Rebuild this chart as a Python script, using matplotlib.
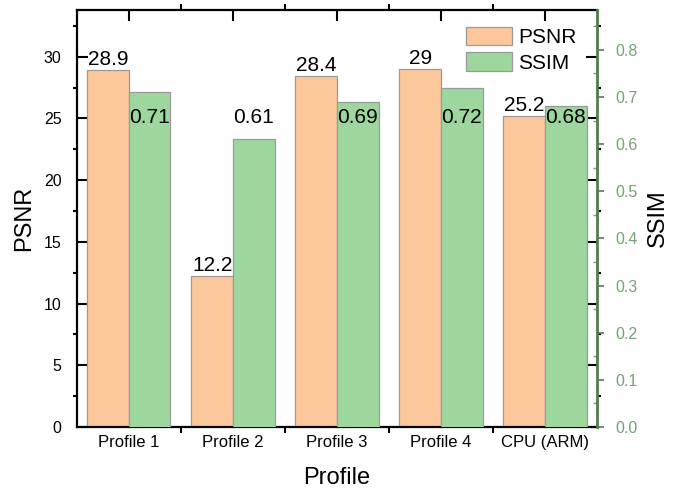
import matplotlib
matplotlib.use("Agg")
import matplotlib.pyplot as plt
from matplotlib.ticker import MultipleLocator, FixedLocator
from matplotlib.transforms import blended_transform_factory
import numpy as np

plt.rcParams['font.family'] = ['Liberation Sans', 'DejaVu Sans']

## Data
profiles = ["Profile 1", "Profile 2", "Profile 3", "Profile 4", "CPU (ARM)"]
psnr = [28.9, 12.2, 28.4, 29, 25.2]
ssim = [0.71, 0.61, 0.69, 0.72, 0.68]
psnr_labels = ["28.9", "12.2", "28.4", "29", "25.2"]
ssim_labels = ["0.71", "0.61", "0.69", "0.72", "0.68"]

orange = "#fcc89b"
green = "#9dd79d"
edge = "#9a9a9a"
dark_green = "#4f7d4f"
label_green = "#74a374"

x = np.arange(len(profiles))
w = 0.4

fig = plt.figure(figsize=(6.8, 4.93), dpi=100)
ax = fig.add_axes([0.113, 0.134, 0.765, 0.846])
ax2 = ax.twinx()

b1 = ax.bar(x - w / 2, psnr, w, color=orange, edgecolor=edge, linewidth=0.9, label="PSNR", zorder=2)
b2 = ax2.bar(x + w / 2, ssim, w, color=green, edgecolor=edge, linewidth=0.9, label="SSIM", zorder=2)

ax.set_xlim(-0.5, len(profiles) - 0.5)
ax.set_ylim(0, 33.8)
ax2.set_ylim(0, 0.885)

# value labels
for i, v in enumerate(psnr):
    ax.annotate(psnr_labels[i], (x[i] - w / 2, v), xytext=(0, 1), textcoords="offset points",
                ha="center", va="bottom", fontsize=15)
# ssim labels all sit at the same height in the original
trans = blended_transform_factory(ax2.transData, ax2.transAxes)
for i, v in enumerate(ssim):
    ax2.text(x[i] + w / 2, 0.743, ssim_labels[i], transform=trans,
             ha="center", va="center", fontsize=15, zorder=5)

# x axis
ax.xaxis.set_major_locator(FixedLocator(x))
ax.xaxis.set_minor_locator(FixedLocator(x[:-1] + 0.5))
ax.set_xticks(x)
ax.set_xticklabels(profiles, fontsize=12)
ax.tick_params(axis="x", which="major", direction="in", length=8, width=1.5, top=True, pad=6)
ax.tick_params(axis="x", which="minor", direction="out", length=4, width=1.5, top=True)

# left y axis
ax.yaxis.set_major_locator(MultipleLocator(5))
ax.yaxis.set_minor_locator(MultipleLocator(2.5))
ax.tick_params(axis="y", which="major", direction="in", length=8, width=1.5, right=True,
               labelsize=11.5, pad=11)
ax.tick_params(axis="y", which="minor", direction="out", length=3, width=1.5, right=True)

# right y axis
ax2.yaxis.set_major_locator(MultipleLocator(0.1))
ax2.yaxis.set_minor_locator(MultipleLocator(0.05))
ax2.set_yticks(np.arange(0, 0.81, 0.1))
ax2.set_yticklabels(["%.1f" % t for t in np.arange(0, 0.81, 0.1)])
ax2.tick_params(axis="y", which="major", direction="out", length=5, width=1.2,
                color=dark_green, labelcolor=label_green, labelsize=11.5, pad=8)
ax2.tick_params(axis="y", which="minor", direction="in", length=3, width=1,
                color=label_green)

for s in ["left", "bottom", "top"]:
    ax.spines[s].set_linewidth(1.6)
ax2.spines["right"].set_color(dark_green)
ax2.spines["right"].set_linewidth(2)
ax.spines["right"].set_visible(False)
for s in ["left", "bottom", "top"]:
    ax2.spines[s].set_visible(False)

ax.set_xlabel("Profile", fontsize=17, labelpad=12)
ax.set_ylabel("PSNR", fontsize=17, labelpad=6)
ax2.set_ylabel("SSIM", fontsize=17, labelpad=7)

ax2.legend([b1, b2], ["PSNR", "SSIM"], loc="upper right", frameon=False, fontsize=15,
           handlelength=2.2, handleheight=1.0, labelspacing=0.25, handletextpad=0.3,
           borderaxespad=0.2, bbox_to_anchor=(0.985, 0.99))

fig.savefig("out.png", dpi=100)
